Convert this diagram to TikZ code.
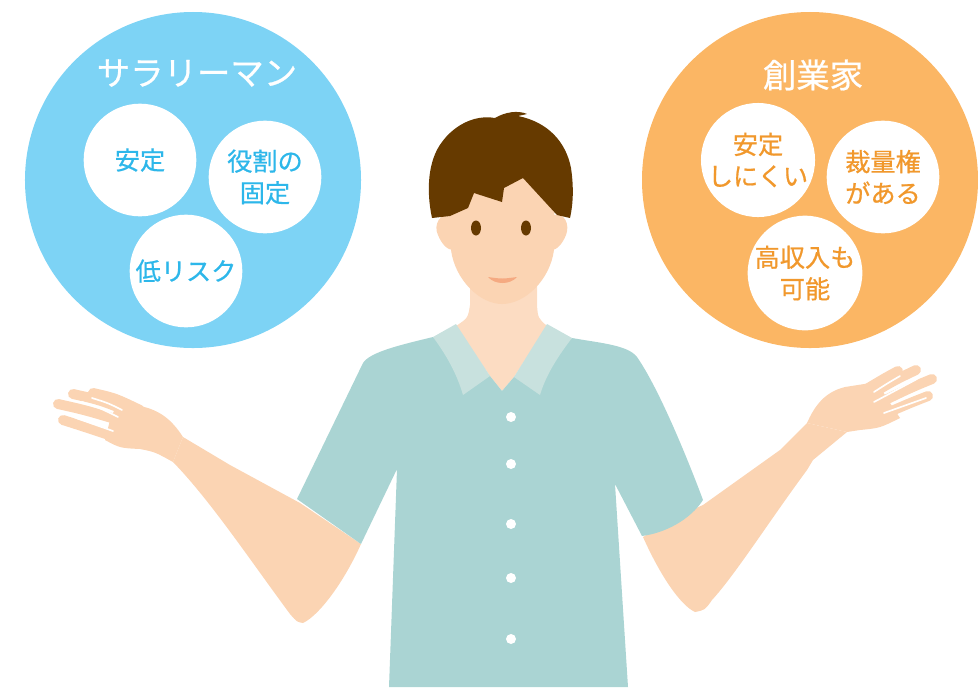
\documentclass[tikz,border=0pt]{standalone}
\usepackage{fontspec}
\setmainfont{Noto Sans CJK JP}[RawFeature={embolden=0.7}]
\usepackage{tikz}
\usetikzlibrary{positioning}
\definecolor{salblu}{RGB}{125, 211, 245}
\definecolor{salblutesto}{RGB}{45, 183, 234}
\definecolor{imparancio}{RGB}{251, 182, 100}
\definecolor{imparanciotesto}{RGB}{241, 152, 44}
\definecolor{pelle}{RGB}{251, 212, 179}
\definecolor{collo}{RGB}{252, 220, 194}
\definecolor{capelli}{RGB}{102, 58, 0}
\definecolor{camicia}{RGB}{170, 212, 211}
\definecolor{colletto}{RGB}{200, 225, 222}
\definecolor{bocca}{RGB}{245, 170, 130}

\begin{document}
\begin{tikzpicture}[
  x=0.03cm, y=-0.03cm,
  cerchio/.style={circle, inner sep=0pt, minimum size=10.08cm},
  bolla/.style={
    circle, fill=white, inner sep=0pt, minimum size=3.38cm,
    align=center, font=\fontsize{21.5}{27}\selectfont
  },
  titolo/.style={font=\fontsize{28.5}{32}\selectfont, text=white},
  dito/.style={draw=pelle, line width=0.3cm, line cap=round},
  fessura/.style={draw=white, line width=0.05cm, line cap=round}
]
  \useasboundingbox (0,0) rectangle (978,687);

  % Cerchio sinistro
  \node[cerchio, fill=salblu] (sal) at (193,180) {};
  \node[titolo] (saltit) at (197,73) {サラリーマン};
  \node[bolla, text=salblutesto] (antei) at (140,160) {安定};
  \node[bolla, text=salblutesto] (yakuwari) at (265,177) {役割の\\固定};
  \node[bolla, text=salblutesto] (risk) at (186,271) {低リスク};

  % Cerchio destro
  \node[cerchio, fill=imparancio] (ent) at (810,180) {};
  \node[titolo] (enttit) at (813,75) {創業家};
  \node[bolla, text=imparanciotesto] (fuantei) at (758,160) {安定\\しにくい};
  \node[bolla, text=imparanciotesto] (sairyo) at (883,177) {裁量権\\がある};
  \node[bolla, text=imparanciotesto] (koshu) at (805,273) {高収入も\\可能};

  % Braccia e mani
  \fill[pelle] (183,437) -- (230,465) -- (300,503) -- (361,544)
    .. controls (345,580) and (320,615) .. (303,623)
    .. controls (297,622) .. (290,614)
    .. controls (250,560) and (210,500) .. (173,462) -- cycle;
  \fill[pelle] (183,437) .. controls (172,420) and (160,410) .. (140,406)
    -- (117,404) -- (110,420) -- (105,440)
    .. controls (120,448) .. (140,449)
    .. controls (155,452) .. (173,462) -- cycle;
  \draw[dito] (58,404) .. controls (85,410) .. (125,422);
  \draw[dito] (73,394) .. controls (100,400) .. (130,412);
  \draw[dito] (93,393) .. controls (115,398) .. (140,410);
  \draw[dito] (63,420) .. controls (85,427) .. (118,438);
  \draw[fessura] (82,402) .. controls (100,408) .. (118,417);
  \draw[fessura] (92,398) .. controls (108,403) .. (122,410);
  \draw[fessura] (76,418) .. controls (95,424) .. (113,431);

  \fill[pelle] (703,505) -- (780,450) -- (807,423) -- (847,432)
    -- (813,460) -- (807,470)
    .. controls (770,520) and (735,575) .. (712,600)
    .. controls (705,610) .. (695,612)
    .. controls (680,605) and (660,575) .. (643,537) -- (680,515) -- cycle;
  \fill[pelle] (807,423) .. controls (815,405) and (825,392) .. (845,387)
    -- (877,382) -- (888,400) -- (900,418)
    .. controls (880,428) .. (860,430) -- (847,432) -- cycle;
  \draw[dito] (898,371) .. controls (885,378) .. (865,390);
  \draw[dito] (916,370) .. controls (895,380) .. (868,396);
  \draw[dito] (932,379) .. controls (910,388) .. (875,405);
  \draw[dito] (928,396) .. controls (910,403) .. (880,416);
  \draw[fessura] (900,376) .. controls (888,383) .. (874,392);
  \draw[fessura] (917,379) .. controls (895,390) .. (874,402);
  \draw[fessura] (926,398) .. controls (905,405) .. (884,413);

  % Collo
  \fill[collo] (470,280) -- (470,305) .. controls (468,318) .. (456,326)
    -- (490,376) -- (502,391) -- (514,377) -- (547,326)
    .. controls (538,318) .. (537,305) -- (537,280) -- cycle;

  % Camicia
  \fill[camicia] (363,363) .. controls (370,352) and (400,345) .. (433,337)
    -- (490,376) -- (502,391) -- (514,377) -- (572,338)
    .. controls (600,343) and (628,345) .. (637,357)
    .. controls (660,390) and (690,465) .. (703,500)
    .. controls (690,520) and (665,533) .. (642,536)
    -- (615,484) -- (628,687) -- (389,687) -- (397,469) -- (361,544)
    -- (297,499) -- cycle;
  \fill[colletto] (433,337) -- (456,324) -- (490,376) -- (463,395)
    .. controls (458,378) and (450,360) .. (433,337) -- cycle;
  \fill[colletto] (572,338) -- (547,324) -- (514,377) -- (540,395)
    .. controls (545,378) and (555,360) .. (572,338) -- cycle;
  \foreach \by in {417,464,524,578,639}
    \fill[white] (511,\by) circle (5);

  % Testa
  \fill[pelle] (452,215) .. controls (440,212) and (433,225) .. (438,235)
    .. controls (442,245) and (448,250) .. (453,250) -- cycle;
  \fill[pelle] (553,215) .. controls (565,212) and (570,225) .. (566,235)
    .. controls (562,245) and (556,250) .. (552,250) -- cycle;
  \fill[pelle] (450,150) -- (451,250)
    .. controls (455,280) and (480,304) .. (502,304)
    .. controls (525,304) and (550,280) .. (554,250) -- (555,150) -- cycle;
  \fill[capelli] (450,216) -- (432,218)
    .. controls (426,190) and (428,160) .. (442,142)
    .. controls (452,128) and (472,114) .. (495,118)
    .. controls (505,112) and (518,110) .. (527,114)
    .. controls (523,115) .. (518,116)
    .. controls (548,122) and (566,142) .. (571,168)
    .. controls (574,188) and (573,205) .. (570,218)
    -- (557,215) -- (523,178) -- (504,188) -- (502,202)
    -- (474,193) -- (468,208) -- cycle;
  \fill[capelli] (476,228) ellipse (5 and 7.5);
  \fill[capelli] (526,228) ellipse (5 and 7.5);
  \fill[bocca] (488,277) .. controls (495,285) and (510,285) .. (517,277)
    .. controls (502,279) .. (488,277) -- cycle;

\end{tikzpicture}
\end{document}
